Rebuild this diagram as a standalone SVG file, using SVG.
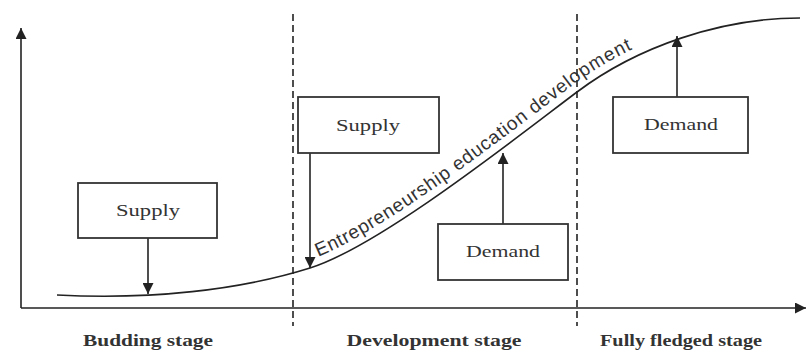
<svg xmlns="http://www.w3.org/2000/svg" width="809" height="353" viewBox="0 0 809 353">
  <style>
    .ln { stroke: #222; stroke-width: 1.6; fill: none; }
    .dash { stroke: #222; stroke-width: 1.6; stroke-dasharray: 7 4; fill: none; }
    .box { fill: #fff; stroke: #333; stroke-width: 1.8; }
    .lbl { font-family: "Liberation Serif", "Times New Roman", serif; font-size: 17px; fill: #333; text-anchor: middle; }
    .stage { font-family: "Liberation Serif", "Times New Roman", serif; font-size: 17px; fill: #333; text-anchor: middle; font-weight: bold; }
    .curve-lbl { font-family: "Liberation Sans", Arial, sans-serif; font-size: 19px; fill: #333; letter-spacing: 0.8px; }
  </style>
  <defs>
    <marker id="ah" viewBox="0 0 10 10" refX="10" refY="5" markerWidth="11" markerHeight="11" markerUnits="userSpaceOnUse" orient="auto">
      <path d="M0,0 L10,5 L0,10 Z" fill="#222"/>
    </marker>
    <path id="curve" d="M57,295 C150,300 240,290 310,268 C380,246 517,137 577,92 C637,47 720,18 800,18"/>
  </defs>
  <rect width="809" height="353" fill="#fff"/>

  <g id="axes">
    <line class="ln" x1="21" y1="308" x2="21" y2="28" marker-end="url(#ah)"/>
    <line class="ln" x1="21" y1="308" x2="806" y2="308" marker-end="url(#ah)"/>
  </g>

  <g id="dividers">
    <line class="dash" x1="293" y1="14" x2="293" y2="326"/>
    <line class="dash" x1="577" y1="14" x2="577" y2="326"/>
  </g>

  <g id="growth-curve">
    <use href="#curve" class="ln"/>
    <text class="curve-lbl" dy="-8"><textPath href="#curve" startOffset="268">Entrepreneurship education development</textPath></text>
  </g>

  <g id="connectors">
    <line class="ln" x1="148" y1="238" x2="148" y2="294" marker-end="url(#ah)"/>
    <line class="ln" x1="310" y1="153" x2="310" y2="268" marker-end="url(#ah)"/>
    <line class="ln" x1="503" y1="224" x2="503" y2="153" marker-end="url(#ah)"/>
    <line class="ln" x1="677" y1="97" x2="677" y2="36" marker-end="url(#ah)"/>
  </g>

  <g id="supply-budding">
    <rect class="box" x="78" y="183" width="139" height="55"/>
    <text class="lbl" x="148" y="216" textLength="64" lengthAdjust="spacingAndGlyphs">Supply</text>
  </g>
  <g id="supply-development">
    <rect class="box" x="298" y="97" width="141" height="56"/>
    <text class="lbl" x="368" y="131" textLength="64" lengthAdjust="spacingAndGlyphs">Supply</text>
  </g>
  <g id="demand-development">
    <rect class="box" x="438" y="224" width="130" height="56"/>
    <text class="lbl" x="503" y="257" textLength="74" lengthAdjust="spacingAndGlyphs">Demand</text>
  </g>
  <g id="demand-fully">
    <rect class="box" x="613" y="97" width="135" height="56"/>
    <text class="lbl" x="681" y="130" textLength="74" lengthAdjust="spacingAndGlyphs">Demand</text>
  </g>

  <g id="stage-labels">
    <text class="stage" x="148" y="346" textLength="130" lengthAdjust="spacingAndGlyphs">Budding stage</text>
    <text class="stage" x="434" y="346" textLength="175" lengthAdjust="spacingAndGlyphs">Development stage</text>
    <text class="stage" x="681" y="346" textLength="162" lengthAdjust="spacingAndGlyphs">Fully fledged stage</text>
  </g>
</svg>
